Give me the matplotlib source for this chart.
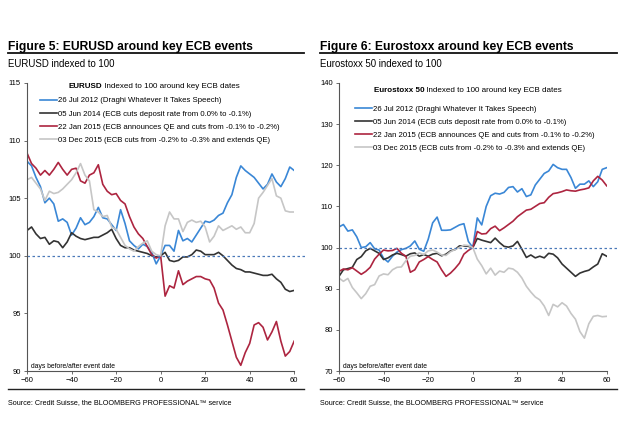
import numpy as np
import matplotlib
matplotlib.use('Agg')
import matplotlib.pyplot as plt
from matplotlib.lines import Line2D

plt.rcParams['font.family'] = ['Liberation Sans', 'DejaVu Sans']

# Days before/after event date (every second day)
days = list(range(-60, 61, 2))

series_labels = ['26 Jul 2012 (Draghi Whatever It Takes Speech)',
                 '05 Jun 2014 (ECB cuts deposit rate from 0.0% to -0.1%)',
                 '22 Jan 2015 (ECB announces QE and cuts from -0.1% to -0.2%)',
                 '03 Dec 2015 (ECB cuts from -0.2% to -0.3% and extends QE)']

# EURUSD indexed to 100
eur_jul12 = [108.2, 107.8, 106.8, 106.0, 104.6, 105.0, 104.5, 103.0, 103.2, 102.9,
             101.8, 102.4, 103.3, 102.7, 102.9, 103.4, 104.2, 103.3, 103.2, 102.7,
             102.2, 104.0, 102.8, 101.3, 100.9, 100.6, 101.0, 100.8, 100.3, 99.3,
             100.0, 100.9, 100.9, 100.4, 102.2, 101.3, 101.5, 101.2, 101.8, 102.4,
             103.0, 102.9, 103.1, 103.5, 103.7, 104.6, 105.3, 106.8, 107.8, 107.4,
             107.1, 106.8, 106.3, 105.8, 106.2, 107.1, 106.4, 106.0, 106.7, 107.7, 107.4]
eur_jun14 = [102.2, 102.5, 101.9, 101.5, 101.6, 101.0, 101.3, 101.2, 100.7, 101.2,
             102.0, 101.7, 101.5, 101.4, 101.5, 101.6, 101.6, 101.8, 102.0, 102.3,
             101.5, 100.9, 100.7, 100.7, 100.5, 100.4, 100.3, 100.2, 100.0, 99.9,
             100.0, 100.3, 99.6, 99.5, 99.6, 99.9, 99.9, 100.1, 100.5, 100.4,
             100.1, 100.1, 100.1, 100.3, 100.0, 99.6, 99.2, 98.9, 98.8, 98.6,
             98.6, 98.5, 98.4, 98.3, 98.3, 98.4, 98.0, 97.7, 97.1, 96.9, 97.0]
eur_jan15 = [108.9, 108.0, 107.6, 107.0, 107.4, 107.0, 107.5, 108.1, 107.5, 107.0,
             107.5, 107.6, 106.5, 106.3, 107.0, 107.2, 107.9, 106.2, 105.6, 105.3,
             105.4, 104.8, 104.5, 103.4, 102.5, 101.9, 101.5, 100.8, 100.1, 99.8,
             100.0, 96.5, 97.4, 97.2, 98.7, 97.5, 97.8, 98.0, 98.2, 98.2,
             98.0, 97.9, 97.2, 95.9, 95.3, 94.0, 92.6, 91.2, 90.5, 91.6,
             92.4, 94.0, 94.2, 93.8, 92.7, 93.4, 94.3, 92.6, 91.3, 91.7, 92.6]
eur_dec15 = [106.6, 106.8, 106.3, 105.8, 104.8, 105.6, 105.4, 105.5, 105.8, 106.2,
             106.6, 107.2, 108.0, 107.0, 106.5, 104.0, 103.8, 103.4, 103.5, 102.5,
             102.3, 101.6, 100.9, 100.6, 100.4, 100.8, 101.1, 101.3, 100.4, 100.1,
             100.0, 102.6, 103.8, 103.2, 103.2, 102.1, 102.9, 103.1, 102.9, 103.0,
             102.5, 101.2, 101.7, 102.6, 102.2, 102.4, 102.6, 102.3, 102.5, 102.0,
             102.0, 102.8, 105.0, 105.5, 106.1, 106.7, 105.2, 105.0, 103.9, 103.8, 103.8]

# Eurostoxx 50 indexed to 100
sx_jul12 = [105.0, 105.6, 104.0, 104.3, 102.6, 100.0, 100.2, 101.2, 99.7, 99.4,
            97.4, 96.5, 97.9, 98.9, 99.5, 99.8, 100.4, 101.6, 99.6, 99.1,
            102.0, 106.0, 107.4, 104.2, 104.2, 104.3, 104.9, 105.5, 105.8, 101.5,
            100.0, 107.2, 105.5, 110.0, 112.6, 113.2, 113.0, 113.4, 114.6, 114.8,
            113.5, 114.3, 112.4, 112.8, 115.2, 116.6, 118.0, 118.6, 120.2, 119.4,
            119.0, 119.0, 117.0, 114.4, 115.4, 115.4, 116.2, 114.8, 116.0, 119.0, 119.4]
sx_jun14 = [93.0, 94.6, 94.9, 95.2, 97.1, 97.8, 99.2, 99.8, 99.2, 98.6,
            97.1, 97.5, 98.2, 98.6, 98.3, 97.9, 98.5, 98.7, 97.9, 98.3,
            97.9, 98.4, 98.6, 98.0, 98.4, 99.2, 99.5, 100.4, 100.4, 100.3,
            100.0, 102.2, 101.8, 101.5, 101.2, 102.3, 101.2, 100.3, 100.1, 100.4,
            101.5, 99.6, 97.6, 98.2, 97.5, 97.9, 97.5, 98.6, 98.4, 97.5,
            96.0, 95.0, 94.0, 93.0, 93.8, 94.2, 94.5, 95.3, 96.0, 98.5, 97.9]
sx_jan15 = [94.2, 94.8, 94.6, 95.1, 94.3, 93.5, 94.2, 95.2, 97.2, 98.4,
            99.4, 99.2, 99.3, 99.8, 98.6, 97.9, 94.0, 94.6, 96.5, 97.1,
            97.8, 97.1, 96.5, 94.6, 93.0, 93.8, 94.9, 96.2, 98.4, 99.3,
            100.0, 103.9, 103.3, 103.4, 104.6, 105.2, 104.1, 104.8, 105.6, 106.4,
            107.5, 108.3, 109.1, 109.3, 110.0, 110.7, 110.9, 112.2, 113.1, 113.3,
            113.6, 114.0, 113.8, 113.7, 114.0, 114.2, 114.5, 116.2, 117.3, 116.4, 115.0]
sx_dec15 = [92.6, 91.8, 92.5, 90.3, 89.0, 87.6, 88.8, 90.6, 91.0, 93.1,
            93.6, 93.4, 94.6, 95.2, 95.3, 96.8, 97.9, 98.1, 98.7, 98.3,
            99.2, 99.4, 98.9, 98.2, 98.1, 99.0, 99.5, 100.0, 100.6, 100.5,
            100.0, 97.2, 95.6, 93.6, 95.0, 93.3, 94.3, 94.0, 95.0, 94.8,
            94.0, 92.6, 90.6, 89.2, 88.0, 87.3, 85.8, 83.5, 86.2, 85.6,
            86.6, 85.8, 84.0, 82.6, 79.6, 78.0, 81.5, 83.3, 83.5, 83.2, 83.3]

colors = ['#3a87d6', '#333333', '#ad2540', '#c6c6c6']


def draw_panel(ax, series, ylim, yticks, legend_bold, title_xy, leg_xy):
    for vals, col, lab in zip(series, colors, series_labels):
        ax.plot(days, vals, color=col, lw=1.2, label=lab)
    ax.axhline(100, xmin=0, xmax=1.04, color='#4a78b8', lw=0.9, ls=(0, (2, 2)), clip_on=False)
    ax.set_xlim(-60, 60)
    ax.set_ylim(*ylim)
    ax.set_xticks(range(-60, 61, 20))
    ax.set_yticks(yticks)
    for s in ['top', 'right']:
        ax.spines[s].set_visible(False)
    for s in ['left', 'bottom']:
        ax.spines[s].set_color('#555555')
        ax.spines[s].set_linewidth(0.8)
    ax.tick_params(labelsize=5.5, length=2.5, width=0.6, color='#555555', pad=2)
    ax.text(0.015, 0.005, 'days before/after event date', transform=ax.transAxes,
            fontsize=4.9, va='bottom', ha='left')

    # legend title: bold part + normal part
    t = ax.text(title_xy[0], title_xy[1], legend_bold, transform=ax.transAxes,
                fontsize=5.8, fontweight='bold', va='baseline', ha='left')
    ax.annotate(' Indexed to 100 around key ECB dates', xy=(1, 0), xycoords=t,
                fontsize=5.8, va='bottom', ha='left')
    ax.legend(loc='upper left', bbox_to_anchor=leg_xy, frameon=False,
              fontsize=5.6, handlelength=2.2, handletextpad=0.1, labelspacing=0.72,
              borderaxespad=0, borderpad=0)


fig = plt.figure(figsize=(6.3, 4.34), dpi=100)

ax1 = fig.add_axes([0.043, 0.145, 0.424, 0.664])
draw_panel(ax1, [eur_jul12, eur_jun14, eur_jan15, eur_dec15], (90, 115),
           range(90, 116, 5), 'EURUSD', (0.154, 0.981), (0.049, 0.951))

ax2 = fig.add_axes([0.538, 0.145, 0.425, 0.664])
draw_panel(ax2, [sx_jul12, sx_jun14, sx_jan15, sx_dec15], (70, 140),
           range(70, 141, 10), 'Eurostoxx 50', (0.13, 0.97), (0.06, 0.923))

# headers, rules, subtitles and sources
for x0, x1, title, sub in [(0.013, 0.482, 'Figure 5: EURUSD around key ECB events', 'EURUSD indexed to 100'),
                           (0.508, 0.98, 'Figure 6: Eurostoxx around key ECB events', 'Eurostoxx 50 indexed to 100')]:
    fig.text(x0, 0.885, title, fontsize=8.7, fontweight='bold', ha='left', va='baseline')
    fig.add_artist(Line2D([x0, x1], [0.877, 0.877], color='#111111', lw=1.3))
    fig.text(x0, 0.845, sub, fontsize=6.9, ha='left', va='baseline')
    fig.add_artist(Line2D([x0, x1], [0.104, 0.104], color='#222222', lw=1.0))
    fig.text(x0, 0.07, 'Source: Credit Suisse, the BLOOMBERG PROFESSIONAL\u2122 service',
             fontsize=5.2, ha='left', va='baseline')

fig.savefig('out.png', dpi=100)
